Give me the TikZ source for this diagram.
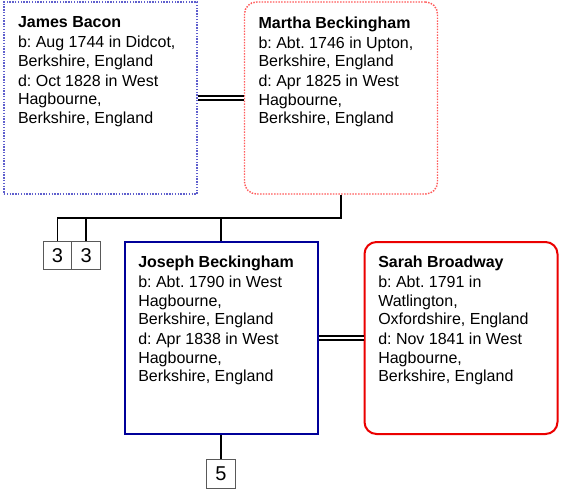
\documentclass[tikz,border=0pt]{standalone}
\usepackage{fontspec}
\setmainfont{Liberation Sans}
\usetikzlibrary{positioning}
\definecolor{malecol}{RGB}{0,0,153}
\definecolor{femcol}{RGB}{235,0,0}
\definecolor{maledot}{RGB}{95,95,205}
\definecolor{femdot}{RGB}{255,90,90}
\frenchspacing
\tikzset{
  person/.style = {minimum width = 144.75pt, minimum height = 144pt, inner sep = 0pt},
  info/.style   = {anchor = north west, inner sep = 0pt, align = left,
                   font = \fontsize{12}{13.8}\selectfont},
  more/.style   = {draw = black!65, line width = 0.6pt, minimum size = 21.5pt,
                   inner sep = 0pt, font = \fontsize{15}{16}\selectfont},
  famline/.style  = {line width = 1.2pt},
  marriage/.style = {double, line width = 1pt, double distance = 1.8pt},
}
\begin{document}
\begin{tikzpicture}[x = 0.75pt, y = -0.75pt]
          \useasboundingbox (0,0) rectangle (562,489);

          % parents
          \node[person, draw = maledot, densely dotted, line width = 1.1pt]
               at (100.5, 98)  (james)  {};
          \node[person, draw = femdot, densely dotted, line width = 1.1pt,
                rounded corners = 9pt]
               at (341, 98)    (martha) {};
          % child and spouse
          \node[person, draw = malecol, line width = 1.5pt]
               at (221, 338)   (joseph) {};
          \node[person, draw = femcol, line width = 1.5pt, rounded corners = 9pt]
               at (461, 338)   (sarah)  {};

          \node[info] at ([shift = {(14.5, 15)}] james.north west)
               {\textbf{James Bacon}\\[1.3pt] b: Aug 1744 in Didcot,\\ Berkshire, England\\[1.3pt]
                d: Oct 1828 in West\\ Hagbourne,\\ Berkshire, England};
          \node[info] at ([shift = {(14.5, 15)}] martha.north west)
               {\textbf{Martha Beckingham}\\[1.3pt] b: Abt. 1746 in Upton,\\ Berkshire, England\\[1.3pt]
                d: Apr 1825 in West\\ Hagbourne,\\ Berkshire, England};
          \node[info] at ([shift = {(14.5, 15)}] joseph.north west)
               {\textbf{Joseph Beckingham}\\[1.3pt] b: Abt. 1790 in West\\ Hagbourne,\\ Berkshire, England\\[1.3pt]
                d: Apr 1838 in West\\ Hagbourne,\\ Berkshire, England};
          \node[info] at ([shift = {(14.5, 15)}] sarah.north west)
               {\textbf{Sarah Broadway}\\[1.3pt] b: Abt. 1791 in\\ Watlington,\\ Oxfordshire, England\\[1.3pt]
                d: Nov 1841 in West\\ Hagbourne,\\ Berkshire, England};

          % more generations
          \node[more] at (57.5, 255.5)                  (sib1) {3};
          \node[more, right = -0.6pt of sib1]           (sib2) {3};
          \node[more, below = 18pt of joseph]           (kids) {5};

          \coordinate (bar) at (0, 218);
          \draw[marriage] (james)  -- (martha);
          \draw[marriage] (joseph) -- (sarah);
          \draw[famline] (martha.south) -- (martha.south |- bar) -| (sib1.north);
          \draw[famline] (sib2.north)   -- (sib2.north |- bar);
          \draw[famline] (joseph.north) -- (joseph.north |- bar);
          \draw[famline] (joseph.south) -- (kids.north);
        \end{tikzpicture}
\end{document}
